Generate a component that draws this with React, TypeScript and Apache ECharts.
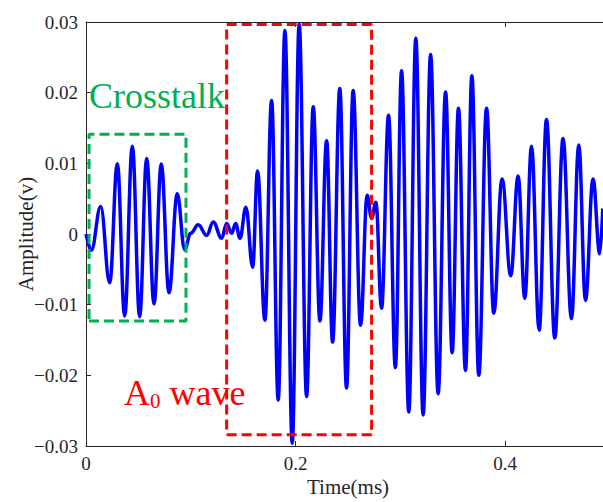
import React, { useEffect, useRef } from "react";
import * as echarts from "echarts";

// Time (ms) of each read peak / trough of the recorded trace
const timeMs = [
  0, 0.0051, 0.014, 0.0226, 0.0299, 0.0369, 0.0442, 0.0512, 0.0579, 0.0649, 0.0718, 0.0792, 0.0871, 0.0941, 0.0999,
  0.1071, 0.1151, 0.1214, 0.1294, 0.1342, 0.139, 0.1428, 0.1469,
  0.1526, 0.159, 0.1637, 0.1707, 0.1771, 0.1834, 0.1898, 0.1968,
  0.2034, 0.2105, 0.2168, 0.2232, 0.2296, 0.2353, 0.2422, 0.2486,
  0.2549, 0.262, 0.2683, 0.2725, 0.2766, 0.282, 0.2887, 0.2952,
  0.3011, 0.308, 0.3147, 0.3217, 0.3288, 0.336, 0.3431, 0.3494,
  0.3554, 0.3621, 0.3682, 0.3748, 0.3822, 0.3891, 0.397, 0.4053,
  0.4123, 0.4187, 0.4251, 0.4324, 0.4394, 0.4473, 0.4552, 0.4632,
  0.4702, 0.4766, 0.4838, 0.4902, 0.4931,
];

// Amplitude (v) at those times
const amplitudeV = [
  0, -0.0023, 0.0039, -0.0069, 0.00995, -0.0116, 0.0124, -0.0117, 0.0107, -0.0099, 0.0099, -0.0083, 0.0057, -0.0022, 0.0001,
  0.0013, -0.0002, 0.0017, -0.0006, 0.0015, 0.0001, 0.0015, -0.0006,
  0.0038, -0.0047, 0.0089, -0.0122, 0.0189, -0.0235, 0.0288, -0.0296,
  0.0297, -0.023, 0.018, -0.0123, 0.0132, -0.0153, 0.0206, -0.0218,
  0.0203, -0.0129, 0.0055, 0.0022, 0.0045, -0.0105, 0.0168, -0.0189,
  0.0231, -0.0252, 0.0277, -0.0256, 0.0254, -0.0226, 0.0201, -0.0168,
  0.0178, -0.0193, 0.0224, -0.02, 0.0178, -0.0112, 0.0078, -0.0059,
  0.0082, -0.0091, 0.0124, -0.0136, 0.0162, -0.0147, 0.0135, -0.012,
  0.0126, -0.0094, 0.0078, -0.0028, 0.0036,
];

// Annotation boxes: [xMin, xMax] in ms, [yMin, yMax] in v
const crosstalkBoxX = [0.0029, 0.0954];
const crosstalkBoxY = [-0.0123, 0.0141];
const a0BoxX = [0.1342, 0.2725];
const a0BoxY = [-0.0284, 0.02965];

const xTickLabels = ["0", "0.2", "0.4"];
const yTickLabels = ["−0.03", "−0.02", "−0.01", "0", "0.01", "0.02", "0.03"];

const FONT = "Liberation Serif";
const AXIS_COLOR = "#262626";

function boxPath(xs: number[], ys: number[]) {
  return [
    [xs[0], ys[0]],
    [xs[1], ys[0]],
    [xs[1], ys[1]],
    [xs[0], ys[1]],
    [xs[0], ys[0]],
  ];
}

export default function App() {
  const ref = useRef<HTMLDivElement>(null);
  useEffect(() => {
    if (!ref.current) return;
    const chart = echarts.init(ref.current, null, { renderer: "svg" });
    const xMin = 0, xMax = 0.5, xStep = 0.2;
    const yMin = -0.03, yMax = 0.03, yStep = 0.01;
    const xLabel = (v: number) => {
      const i = Math.round((v - xMin) / xStep);
      return Math.abs(v - (xMin + i * xStep)) < 1e-9 && i < xTickLabels.length ? "{t|" + xTickLabels[i] + "}" : "";
    };
    const yLabel = (v: number) => {
      const i = Math.round((v - yMin) / yStep);
      return yTickLabels[i] !== undefined ? "{t|" + yTickLabels[i] + "}" : "";
    };
    const tickRich = { t: { fontFamily: FONT, fontSize: 19, color: AXIS_COLOR } };
    chart.setOption({
      animation: false,
      backgroundColor: "#ffffff",
      textStyle: { fontFamily: FONT },
      grid: { left: 86, right: 1, top: 22, bottom: 56, containLabel: false, outerBoundsMode: "none" },
      xAxis: [
        {
          type: "value",
          min: xMin,
          max: xMax,
          interval: xStep,
          name: "Time(ms)",
          nameLocation: "middle",
          nameGap: 30,
          nameMoveOverlap: false,
          nameTextStyle: { fontFamily: FONT, fontSize: 21, color: AXIS_COLOR },
          axisLine: { show: true, onZero: false, lineStyle: { color: AXIS_COLOR, width: 1 } },
          axisTick: { show: true, inside: true, length: 5, lineStyle: { color: AXIS_COLOR } },
          axisLabel: {
            fontFamily: FONT,
            fontSize: 19,
            color: AXIS_COLOR,
            margin: 8,
            showMaxLabel: false,
            formatter: xLabel,
            rich: tickRich,
          },
          splitLine: { show: false },
        },
        {
          type: "value",
          position: "top",
          min: xMin,
          max: xMax,
          interval: xStep,
          axisLine: { show: true, onZero: false, lineStyle: { color: AXIS_COLOR, width: 1 } },
          axisTick: { show: true, inside: true, length: 5, lineStyle: { color: AXIS_COLOR } },
          axisLabel: { show: false },
          splitLine: { show: false },
        },
      ],
      yAxis: {
        type: "value",
        min: yMin,
        max: yMax,
        interval: yStep,
        name: "Amplitude(v)",
        nameLocation: "middle",
        nameGap: 50,
        nameMoveOverlap: false,
        nameRotate: 90,
        nameTextStyle: { fontFamily: FONT, fontSize: 21, color: AXIS_COLOR },
        axisLine: { show: true, onZero: false, lineStyle: { color: AXIS_COLOR, width: 1 } },
        axisTick: { show: true, inside: true, length: 5, lineStyle: { color: AXIS_COLOR } },
        axisLabel: { fontFamily: FONT, fontSize: 19, color: AXIS_COLOR, margin: 8, formatter: yLabel, rich: tickRich },
        splitLine: { show: false },
      },
      series: [
        {
          type: "line",
          data: timeMs.map((t, i) => [t, amplitudeV[i]]),
          showSymbol: false,
          symbol: "none",
          smooth: 0.4,
          smoothMonotone: "x",
          lineStyle: { color: "#0000ff", width: 3.5 },
          z: 2,
        },
        {
          type: "line",
          data: boxPath(crosstalkBoxX, crosstalkBoxY),
          symbol: "none",
          lineStyle: { color: "#00b050", width: 3, type: [10, 5] },
          z: 3,
        },
        {
          type: "line",
          data: boxPath(a0BoxX, a0BoxY),
          symbol: "none",
          lineStyle: { color: "#ff0000", width: 3, type: [10, 5] },
          z: 3,
        },
      ],
      graphic: [
        {
          type: "text",
          left: 89,
          top: 78,
          z: 10,
          style: { text: "Crosstalk", fontFamily: FONT, fontSize: 36, fill: "#00b050" },
        },
        {
          type: "text",
          left: 124,
          top: 375,
          z: 10,
          style: {
            text: "{a|A}{s|0}{a| wave}",
            rich: {
              a: { fontFamily: FONT, fontSize: 36, fill: "#ff0000", color: "#ff0000", verticalAlign: "bottom" },
              s: { fontFamily: FONT, fontSize: 21, fill: "#ff0000", color: "#ff0000", verticalAlign: "bottom" },
            },
          },
        },
      ],
    });
    return () => chart.dispose();
  }, []);
  return (
    <div style={{ position: "absolute", left: 0, top: 0, width: 603, height: 502, overflow: "hidden", background: "#fff" }}>
      <div ref={ref} style={{ position: "absolute", left: 0, top: 0, width: 611, height: 502 }} />
    </div>
  );
}
